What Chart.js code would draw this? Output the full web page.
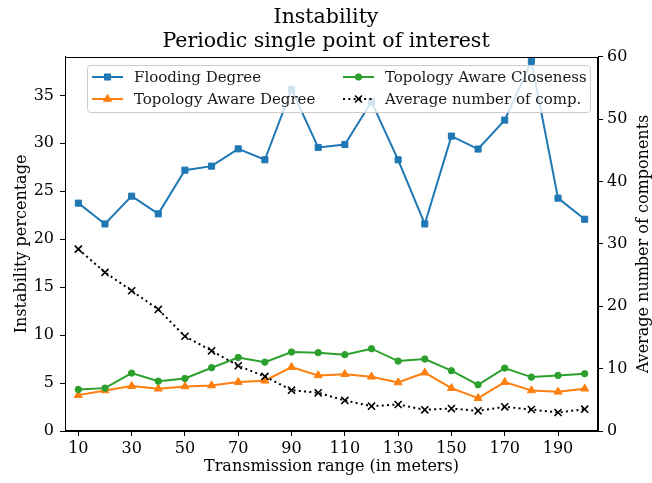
<!DOCTYPE html>
<html>
<head>
<meta charset="utf-8">
<script src="https://cdn.jsdelivr.net/npm/chart.js@4"></script>
<style>
html,body{margin:0;padding:0;background:#fff;}
#wrap{width:652px;height:483px;position:relative;}
</style>
</head>
<body>
<div id="wrap"><canvas id="c" width="652" height="483"></canvas></div>
<script>
const ranges = [10,20,30,40,50,60,70,80,90,100,110,120,130,140,150,160,170,180,190,200];
const floodingDegree = [23.76,21.59,24.49,22.64,27.2,27.62,29.42,28.28,35.63,29.57,29.88,34.33,28.28,21.59,30.75,29.4,32.42,38.55,24.28,22.08];
const topoDegree = [3.74,4.23,4.68,4.41,4.65,4.75,5.1,5.24,6.66,5.8,5.93,5.66,5.06,6.08,4.47,3.42,5.1,4.23,4.09,4.41];
const topoCloseness = [4.33,4.47,6.04,5.2,5.48,6.6,7.67,7.18,8.23,8.17,7.96,8.58,7.29,7.5,6.29,4.82,6.56,5.62,5.8,5.97];
const avgComponents = [29.18,25.44,22.5,19.5,15.2,12.87,10.47,8.75,6.55,6.13,4.9,3.98,4.25,3.4,3.6,3.24,3.88,3.45,2.97,3.5];
const xTickLabels = [10,30,50,70,90,110,130,150,170,190];
const yLeftTicks = [0,5,10,15,20,25,30,35];
const yRightTicks = [0,10,20,30,40,50,60];
const seriesNames = ['Flooding Degree','Topology Aware Degree','Topology Aware Closeness','Average number of comp.'];
const titleLines = ['Instability','Periodic single point of interest'];
const xTitle = 'Transmission range (in meters)';
const yTitle = 'Instability percentage';
const y2Title = 'Average number of components';

const FONT = "'DejaVu Serif', serif";
const pts = arr => arr.map((v,i)=>({x:ranges[i], y:v}));

const legendPlugin = {
  id:'mplLegend',
  afterDatasetsDraw(chart){
    const ctx = chart.ctx;
    const x0=87, y0=65, w=503, h=47;
    ctx.save();
    ctx.beginPath();
    if (ctx.roundRect) ctx.roundRect(x0+0.5,y0+0.5,w,h,3); else ctx.rect(x0+0.5,y0+0.5,w,h);
    ctx.fillStyle='rgba(255,255,255,0.8)';
    ctx.fill();
    ctx.strokeStyle='#cccccc';
    ctx.lineWidth=1;
    ctx.stroke();
    const items = [
      {ds:0, hx:92, tx:134, y:77},
      {ds:1, hx:92, tx:134, y:99},
      {ds:2, hx:343, tx:385, y:77},
      {ds:3, hx:343, tx:385, y:99},
    ];
    items.forEach(it=>{
      const d = chart.data.datasets[it.ds];
      ctx.save();
      ctx.strokeStyle=d.borderColor;
      ctx.lineWidth=d.borderWidth;
      ctx.setLineDash(d.borderDash||[]);
      ctx.beginPath();
      ctx.moveTo(it.hx,it.y);ctx.lineTo(it.hx+31,it.y);
      ctx.stroke();
      ctx.restore();
      ctx.save();
      ctx.fillStyle=d.pointBackgroundColor; ctx.strokeStyle=d.pointBorderColor;
      ctx.lineWidth=d.pointBorderWidth;
      Chart.helpers.drawPoint(ctx,{pointStyle:d.pointStyle,radius:d.pointRadius,borderWidth:d.pointBorderWidth,rotation:0},it.hx+15.5,it.y);
      ctx.restore();
      ctx.fillStyle='#1a1a1a';
      ctx.font="15px "+FONT;
      ctx.textBaseline='middle';
      ctx.textAlign='left';
      ctx.fillText(d.label,it.tx,it.y+1);
    });
    ctx.restore();
  }
};

const framePlugin = {
  id:'frame',
  afterDraw(chart){
    const a = chart.chartArea, ctx = chart.ctx;
    ctx.save();
    ctx.strokeStyle='#000';
    ctx.lineWidth=1;
    ctx.strokeRect(Math.round(a.left)+0.5, Math.round(a.top)+0.5, Math.round(a.right-a.left)-1, Math.round(a.bottom-a.top)-1);
    // right axis title, rotated like matplotlib (reads bottom to top)
    ctx.translate(644, (a.top+a.bottom)/2);
    ctx.rotate(-Math.PI/2);
    ctx.fillStyle='#000';
    ctx.font="16px "+FONT;
    ctx.textAlign='center';
    ctx.textBaseline='middle';
    ctx.fillText(y2Title,0,0);
    ctx.restore();
  }
};

function mk(label, data, color, style, r, axis, dash, order){
  return {
    label, data: pts(data), yAxisID: axis,
    borderColor: color, backgroundColor: color,
    pointBackgroundColor: color,
    pointBorderColor: color,
    pointBorderWidth: style==='crossRot' ? 1.6 : 1,
    pointStyle: style, pointRadius: r, pointHoverRadius: r,
    borderWidth: 2, borderDash: dash || [], tension: 0, fill:false, order,
    borderCapStyle: dash ? 'butt' : 'round'
  };
}

const tickFont = {family: FONT, size: 16};
const titleFont = {family: FONT, size: 16};

new Chart(document.getElementById('c'), {
  type:'line',
  data:{
    datasets:[
      mk(seriesNames[0], floodingDegree, '#1f77b4', 'rect', 4.3, 'y', null, 3),
      mk(seriesNames[1], topoDegree, '#ff7f0e', 'triangle', 4.6, 'y', null, 2),
      mk(seriesNames[2], topoCloseness, '#2ca02c', 'circle', 3.2, 'y', null, 1),
      mk(seriesNames[3], avgComponents, '#000000', 'crossRot', 5, 'y2', [2,3.3], 0),
    ]
  },
  options:{
    responsive:false, animation:false, devicePixelRatio:1,
    layout:{padding:0},
    plugins:{
      legend:{display:false}, tooltip:{enabled:false},
      title:{display:true, text:titleLines, color:'#000',
        font:{family:FONT, size:20.5, weight:'normal', lineHeight:1.146}, padding:{top:6,bottom:4}}
    },
    scales:{
      x:{type:'linear', min:5, max:205,
        afterBuildTicks: s=>{ s.ticks = xTickLabels.map(v=>({value:v})); },
        afterFit: s=>{ s.height = 52; },
        ticks:{color:'#000', font:tickFont, padding:3, maxRotation:0, autoSkip:false, callback:v=>String(v)},
        grid:{display:true, drawOnChartArea:false, drawTicks:true, tickLength:5, color:'#000', tickColor:'#000'},
        border:{display:true, color:'#000', width:1},
        title:{display:true, text:xTitle, color:'#000', font:titleFont, padding:{top:0,bottom:7}}
      },
      y:{type:'linear', position:'left', min:0, max:39,
        afterBuildTicks: s=>{ s.ticks = yLeftTicks.map(v=>({value:v})); },
        afterFit: s=>{ s.width = 65; },
        ticks:{color:'#000', font:tickFont, padding:6, autoSkip:false},
        grid:{display:true, drawOnChartArea:false, drawTicks:true, tickLength:5, color:'#000', tickColor:'#000'},
        border:{display:true, color:'#000', width:1},
        title:{display:true, text:yTitle, color:'#000', font:titleFont, padding:{top:12,bottom:0}}
      },
      y2:{type:'linear', position:'right', min:0, max:60,
        afterBuildTicks: s=>{ s.ticks = yRightTicks.map(v=>({value:v})); },
        afterFit: s=>{ s.width = 54; },
        ticks:{color:'#000', font:tickFont, padding:4, autoSkip:false},
        grid:{display:true, drawOnChartArea:false, drawTicks:true, tickLength:5, color:'#000', tickColor:'#000'},
        border:{display:true, color:'#000', width:1},
        title:{display:false}
      }
    }
  },
  plugins:[legendPlugin, framePlugin]
});
</script>
</body>
</html>
